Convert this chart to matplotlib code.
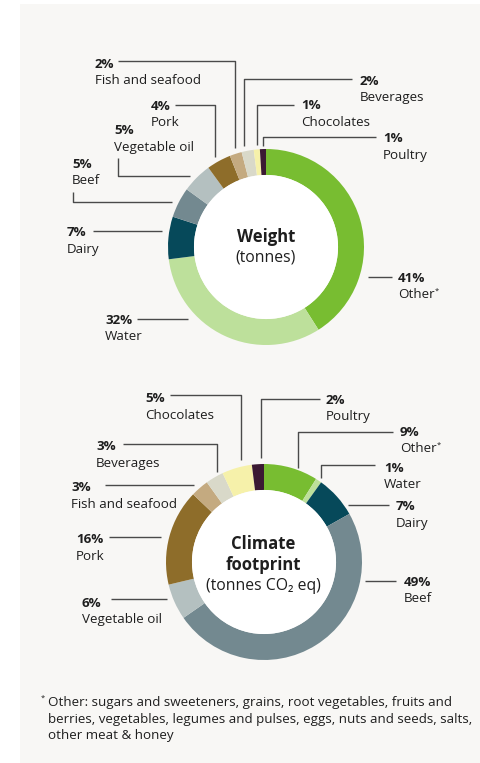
import matplotlib
matplotlib.use("Agg")
import matplotlib.pyplot as plt
from matplotlib.patches import Rectangle

plt.rcParams['font.family'] = ['Open Sans', 'DejaVu Sans']

# ---------------- data ----------------
weight_categories = ['Other', 'Water', 'Dairy', 'Beef', 'Vegetable oil', 'Pork',
                     'Fish and seafood', 'Beverages', 'Chocolates', 'Poultry']
weight_values = [41, 32, 7, 5, 5, 4, 2, 2, 1, 1]

climate_categories = ['Other', 'Water', 'Dairy', 'Beef', 'Vegetable oil', 'Pork',
                      'Fish and seafood', 'Beverages', 'Chocolates', 'Poultry']
climate_values = [9, 1, 7, 49, 6, 16, 3, 3, 5, 2]

colors = {
    'Other': '#78bd31', 'Water': '#bde09b', 'Dairy': '#06495a', 'Beef': '#738990',
    'Vegetable oil': '#b4c0c0', 'Pork': '#8e6d2a', 'Fish and seafood': '#c4aa80',
    'Beverages': '#d9d9c9', 'Chocolates': '#f6f1aa', 'Poultry': '#3b1a33',
}

footnote_lines = [
    "Other: sugars and sweeteners, grains, root vegetables, fruits and",
    "berries, vegetables, legumes and pulses, eggs, nuts and seeds, salts,",
    "other meat & honey",
]

# ---------------- layout (pixels) ----------------
W, H = 480, 763
LINE_C = '#4a4a4a'
TEXT_C = '#1e1e1e'
LBL_FS = 9.6

weight_layout = {
    'Fish and seafood': dict(tx=95, ty=67.5, path=[(118, 61), (235, 61), (235, 148)]),
    'Beverages': dict(tx=360, ty=85, path=[(352, 79), (244, 79), (244, 146)]),
    'Chocolates': dict(tx=301, ty=109, path=[(294, 105), (257, 105), (257, 145)]),
    'Poultry': dict(tx=383, ty=142, path=[(376, 137), (263, 137), (263, 146)]),
    'Pork': dict(tx=151, ty=110, path=[(175, 105), (215, 105), (215, 157)]),
    'Vegetable oil': dict(tx=114, ty=134, path=[(118, 158), (118, 176), (190, 176)]),
    'Beef': dict(tx=72, ty=168, path=[(73, 192), (73, 202), (172, 202)]),
    'Dairy': dict(tx=67, ty=236, path=[(93, 231), (162, 231)]),
    'Water': dict(tx=105, ty=324, path=[(137, 319), (188, 319)]),
    'Other': dict(tx=398, ty=282, path=[(368, 277), (392, 277)]),
}
climate_layout = {
    'Chocolates': dict(tx=145, ty=402.5, path=[(170, 394.5), (241, 394.5), (241, 460)]),
    'Poultry': dict(tx=326, ty=403.5, path=[(320, 399), (261, 399), (261, 458)]),
    'Other': dict(tx=400, ty=436, path=[(393, 432), (298, 432), (298, 468)]),
    'Water': dict(tx=384, ty=472, path=[(375, 465), (321, 465), (321, 478)]),
    'Dairy': dict(tx=396, ty=510, path=[(348, 505), (389, 505)]),
    'Beef': dict(tx=404, ty=586, path=[(365, 581), (396, 581)]),
    'Vegetable oil': dict(tx=82, ty=607, path=[(111, 599), (167, 599)]),
    'Pork': dict(tx=76, ty=543, path=[(109, 537), (161, 537)]),
    'Fish and seafood': dict(tx=71, ty=491, path=[(105, 485), (194, 485)]),
    'Beverages': dict(tx=96, ty=450, path=[(123, 444), (217, 444), (217, 472)]),
}

fig = plt.figure(figsize=(W / 100, H / 100), dpi=100)
fig.patch.set_facecolor('white')

bg = fig.add_axes([0, 0, 1, 1], zorder=0)
bg.set_xlim(0, W)
bg.set_ylim(H, 0)
bg.axis('off')
bg.add_patch(Rectangle((20, 4), W - 20, H - 4, facecolor='#f8f7f5', edgecolor='none', zorder=0))

ov = fig.add_axes([0, 0, 1, 1], zorder=5)
ov.set_xlim(0, W)
ov.set_ylim(H, 0)
ov.axis('off')
ov.patch.set_alpha(0)


def donut(cx, cy, r, values, cats):
    ax = fig.add_axes([(cx - r) / W, 1 - (cy + r) / H, 2 * r / W, 2 * r / H], zorder=2)
    ax.pie(values, colors=[colors[c] for c in cats], startangle=90, counterclock=False,
           radius=1.0, wedgeprops=dict(width=0.265, edgecolor='none', linewidth=0))
    ax.add_patch(plt.Circle((0, 0), 0.735, facecolor='white', edgecolor='none'))
    ax.set_xlim(-1, 1)
    ax.set_ylim(-1, 1)
    ax.set_aspect('equal')
    ax.axis('off')
    return ax


def labels(values, cats, layout):
    for v, c in zip(values, cats):
        lay = layout[c]
        xs = [p[0] for p in lay['path']]
        ys = [p[1] for p in lay['path']]
        ov.plot(xs, ys, color=LINE_C, lw=1.0, solid_capstyle='butt', zorder=2)
        ov.text(lay['tx'], lay['ty'], f"{v}%", fontsize=LBL_FS, fontweight='bold',
                color=TEXT_C, ha='left', va='baseline', zorder=3)
        t = ov.text(lay['tx'], lay['ty'] + 16.5, c, fontsize=LBL_FS,
                    color=TEXT_C, ha='left', va='baseline', zorder=3)
        if c == 'Other':
            ov.annotate('*', xy=(1, 1), xycoords=t, xytext=(-0.3, 0.5),
                        textcoords='offset points', fontsize=5.5, color=TEXT_C,
                        ha='left', va='top')


donut(266, 247, 98, weight_values, weight_categories)
labels(weight_values, weight_categories, weight_layout)
ov.text(265.7, 241.5, 'Weight', fontsize=12, fontweight='bold', color=TEXT_C,
        ha='center', va='baseline', zorder=3)
ov.text(265.7, 261.5, '(tonnes)', fontsize=11.3, color=TEXT_C,
        ha='center', va='baseline', zorder=3)

donut(264, 562, 98, climate_values, climate_categories)
labels(climate_values, climate_categories, climate_layout)
ov.text(263, 549, 'Climate', fontsize=12, fontweight='bold', color=TEXT_C,
        ha='center', va='baseline', zorder=3)
ov.text(263, 569.5, 'footprint', fontsize=12, fontweight='bold', color=TEXT_C,
        ha='center', va='baseline', zorder=3)
ov.text(263, 590, '(tonnes CO\u2082 eq)', fontsize=11.3, color=TEXT_C,
        ha='center', va='baseline', zorder=3)

# footnote
ov.text(41, 700, '*', fontsize=5.5, color=TEXT_C, ha='left', va='baseline')
for i, line in enumerate(footnote_lines):
    ov.text(48, 706 + i * 16.5, line, fontsize=9.6, color=TEXT_C, ha='left', va='baseline')

fig.savefig('out.png', dpi=100, facecolor=fig.get_facecolor())
